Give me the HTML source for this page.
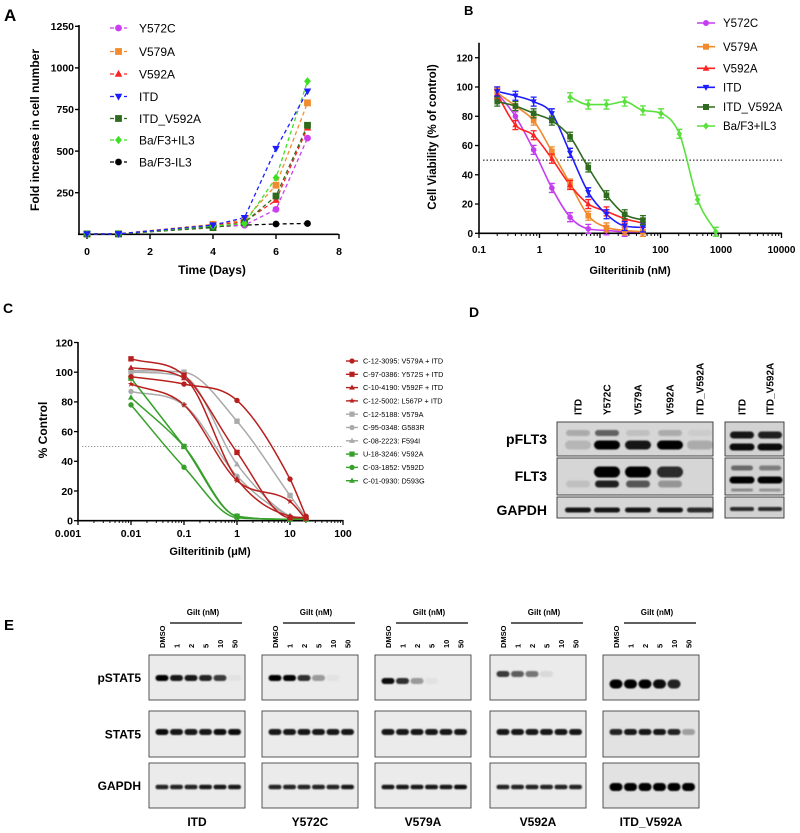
<!DOCTYPE html>
<html><head><meta charset="utf-8"><style>
html,body{margin:0;padding:0;background:#fff;}
svg{display:block;font-family:"Liberation Sans",sans-serif;}
.b{font-weight:bold;}
.n{font-family:"Liberation Sans Narrow","Liberation Sans",sans-serif;font-weight:bold;}
</style></head><body>
<svg id="fig" width="800" height="833" viewBox="0 0 800 833" xmlns="http://www.w3.org/2000/svg">
<defs><filter id="blur" x="-20%" y="-50%" width="140%" height="200%"><feGaussianBlur stdDeviation="0.9"/></filter></defs>
</svg>
<script>
// ---------- Panel A data ----------
const aDays=[0,1,4,5,6,7];
const aNames=["Y572C","V579A","V592A","ITD","ITD_V592A","Ba/F3+IL3","Ba/F3-IL3"];
const aY572C=[2,2,50,55,150,578];
const aV579A=[2,3,60,85,295,790];
const aV592A=[2,3,55,75,205,640];
const aITD=[2,3,55,100,515,860];
const aITDV=[2,2,40,70,230,655];
const aIL3p=[2,3,50,65,340,920];
const aIL3m=[2,3,45,55,62,65];
const aYTicks=[250,500,750,1000,1250];
const aXTicks=[0,2,4,6,8];
// ---------- Panel B data ----------
const bConc=[0.2,0.4,0.8,1.6,3.2,6.4,12.8,25.6,51.2];
const bY572C=[96,80,57,31,11,3,2,1,1];
const bV579A=[96,87,77,56,34,12,4,2,1];
const bV592A=[95,74,67,51,33,20,15,10,7];
const bITD=[97,94,90,82,55,28,13,5,4];
const bITDV=[90,87,82,77,66,45,26,13,9];
const bIL3Conc=[3.2,6.4,12.8,25.6,51.2,102,205,410,820];
const bIL3=[93,88,88,90,84,82,68,23,1];
const bYTicks=[0,20,40,60,80,100,120];
const bXTicks=[0.1,1,10,100,1000,10000];
// ---------- Panel C data ----------
const cConc=[0.01,0.1,1,10,20];
const cNames=["C-12-3095: V579A + ITD","C-97-0386: Y572S + ITD","C-10-4190: V592F + ITD","C-12-5002: L567P + ITD","C-12-5188: V579A","C-95-0348: G583R","C-08-2223: F594I","U-18-3246: V592A","C-03-1852: V592D","C-01-0930: D593G"];
const c1=[97,92,81,28,3];
const c2=[109,98,46,2,2];
const c3=[103,96,28,3,2];
const c4=[92,78,27,13,1];
const c5=[101,100,67,17,2];
const c6=[87,78,30,3,1];
const c7=[100,97,38,3,1];
const c8=[96,50,3,1,1];
const c9=[78,36,2,1,1];
const c10=[83,50,3,1,1];
const cYTicks=[0,20,40,60,80,100,120];
const cXTicks=[0.001,0.01,0.1,1,10,100];

const svg=document.getElementById('fig');
const NS="http://www.w3.org/2000/svg";
function mk(tag,attrs,parent,name){
  const el=document.createElementNS(NS,tag);
  for(const k in attrs) el.setAttribute(k,attrs[k]);
  
  
  (parent||svg).appendChild(el);
  return el;
}
function txt(s,x,y,attrs,parent,name){const t=mk('text',Object.assign({x:x,y:y},attrs),parent,name);t.textContent=s;return t;}
function marker(g,type,cx,cy,r,col,name){
  let el;
  if(type==='circle') el=mk('circle',{cx:cx,cy:cy,r:r,fill:col},g,name);
  else if(type==='square') el=mk('rect',{x:cx-r,y:cy-r,width:2*r,height:2*r,fill:col},g,name);
  else if(type==='tri') el=mk('polygon',{points:`${cx},${cy-r*1.2} ${cx-r*1.1},${cy+r*0.8} ${cx+r*1.1},${cy+r*0.8}`,fill:col},g,name);
  else if(type==='tridown') el=mk('polygon',{points:`${cx},${cy+r*1.2} ${cx-r*1.1},${cy-r*0.8} ${cx+r*1.1},${cy-r*0.8}`,fill:col},g,name);
  else if(type==='diamond') el=mk('polygon',{points:`${cx},${cy-r*1.2} ${cx+r},${cy} ${cx},${cy+r*1.2} ${cx-r},${cy}`,fill:col},g,name);
  else if(type==='star'){let p=[];for(let i=0;i<10;i++){const a=-Math.PI/2+i*Math.PI/5,rr=i%2?r*0.5:r*1.2;p.push((cx+rr*Math.cos(a)).toFixed(1)+','+(cy+rr*Math.sin(a)).toFixed(1));}el=mk('polygon',{points:p.join(' '),fill:col},g,name);}
  return el;
}
// monotone cubic (Fritsch-Carlson) in screen space
function smooth(pts){
  const n=pts.length;const d=[],m=[];
  for(let i=0;i<n-1;i++) d.push((pts[i+1][1]-pts[i][1])/(pts[i+1][0]-pts[i][0]));
  m[0]=d[0];m[n-1]=d[n-2];
  for(let i=1;i<n-1;i++) m[i]=(d[i-1]*d[i]<=0)?0:(d[i-1]+d[i])/2;
  for(let i=0;i<n-1;i++){
    if(d[i]===0){m[i]=0;m[i+1]=0;continue;}
    const a=m[i]/d[i],b=m[i+1]/d[i],s=a*a+b*b;
    if(s>9){const t=3/Math.sqrt(s);m[i]=t*a*d[i];m[i+1]=t*b*d[i];}
  }
  let p=`M${pts[0][0].toFixed(1)},${pts[0][1].toFixed(1)}`;
  for(let i=0;i<n-1;i++){
    const h=(pts[i+1][0]-pts[i][0])/3;
    p+=` C${(pts[i][0]+h).toFixed(1)},${(pts[i][1]+m[i]*h).toFixed(1)} ${(pts[i+1][0]-h).toFixed(1)},${(pts[i+1][1]-m[i+1]*h).toFixed(1)} ${pts[i+1][0].toFixed(1)},${pts[i+1][1].toFixed(1)}`;
  }
  return p;
}

// ================= Panel A =================
(function(){
  const g=mk('g',{},svg,'panel-a');
  const xA=d=>87+d*31.5, yA=v=>234.3-v*(41.6/250);
  txt('A',4,21,{'font-size':17,'class':'b'},g,'panel-a-label');
  mk('line',{x1:79,y1:25,x2:79,y2:234.5,stroke:'#000','stroke-width':1.6},g,'a-y-axis');
  mk('line',{x1:78,y1:234.3,x2:338.5,y2:234.3,stroke:'#000','stroke-width':1.6},g,'a-x-axis');
  aYTicks.forEach(v=>{mk('line',{x1:75,y1:yA(v),x2:79,y2:yA(v),stroke:'#000','stroke-width':1.4},g,'a-y-tick');
    txt(v,74,yA(v)+3.7,{'font-size':10.5,'class':'b','text-anchor':'end'},g,'a-y-tick-label');});
  aXTicks.forEach(v=>{mk('line',{x1:xA(v),y1:234,x2:xA(v),y2:239,stroke:'#000','stroke-width':1.4},g,'a-x-tick');
    txt(v,xA(v),255,{'font-size':10.5,'class':'b','text-anchor':'middle'},g,'a-x-tick-label');});
  txt('Time (Days)',212,274,{'font-size':12,'class':'b','text-anchor':'middle'},g,'a-x-axis-title');
  txt('Fold increase in cell number',0,0,{'font-size':12,'class':'b','text-anchor':'middle',transform:'translate(39,130) rotate(-90)'},g,'a-y-axis-title');
  const series=[aY572C,aV579A,aV592A,aITD,aITDV,aIL3p,aIL3m];
  const cols=['#cc3cf0','#f28a2e','#ff2222','#1d1dff','#2f6b1f','#3ee024','#000'];
  const shapes=['circle','square','tri','tridown','square','diamond','circle'];
  const order=[6,0,1,2,4,5,3];
  order.forEach(i=>{
    const s=series[i];
    mk('polyline',{points:aDays.map((d,j)=>xA(d)+','+yA(s[j])).join(' '),fill:'none',stroke:cols[i],'stroke-width':1.3,'stroke-dasharray':'4,3'},g,'a-line-'+aNames[i]);
  });
  order.forEach(i=>{const s=series[i];aDays.forEach((d,j)=>marker(g,shapes[i],xA(d),yA(s[j]),3.4,cols[i],'a-point-'+aNames[i]));});
  const ly=[28,51.5,74,96.5,118.5,140,162];
  aNames.forEach((n,i)=>{
    mk('line',{x1:110,y1:ly[i],x2:127,y2:ly[i],stroke:cols[i],'stroke-width':1.3,'stroke-dasharray':'4,3'},g,'a-legend-line');
    marker(g,shapes[i],118.5,ly[i],3.4,cols[i],'a-legend-marker');
    txt(n,139,ly[i]+4.3,{'font-size':12},g,'a-legend-entry');
  });
})();

// ================= Panel B =================
(function(){
  const g=mk('g',{},svg,'panel-b');
  const xB=c=>479+(Math.log10(c)+1)*60.5, yB=v=>233.3-v*1.463;
  txt('B',464,15,{'font-size':13,'class':'b'},g,'panel-b-label');
  mk('line',{x1:479,y1:42.7,x2:479,y2:234,stroke:'#000','stroke-width':1.6},g,'b-y-axis');
  mk('line',{x1:478,y1:233.3,x2:782,y2:233.3,stroke:'#000','stroke-width':1.6},g,'b-x-axis');
  bYTicks.forEach(v=>{mk('line',{x1:475,y1:yB(v),x2:479,y2:yB(v),stroke:'#000','stroke-width':1.3},g,'b-y-tick');
    txt(v,473,yB(v)+3.6,{'font-size':10,'class':'b','text-anchor':'end'},g,'b-y-tick-label');});
  bXTicks.forEach((v,k)=>{mk('line',{x1:xB(v),y1:233,x2:xB(v),y2:238,stroke:'#000','stroke-width':1.3},g,'b-x-tick');
    txt(v,xB(v),253,{'font-size':10,'class':'b','text-anchor':'middle'},g,'b-x-tick-label');
    if(k<bXTicks.length-1) for(let m=2;m<10;m++) mk('line',{x1:xB(v*m),y1:233,x2:xB(v*m),y2:236,stroke:'#000','stroke-width':1},g,'b-x-minor-tick');});
  txt('Gilteritinib (nM)',630,274,{'font-size':11,'class':'b','text-anchor':'middle'},g,'b-x-axis-title');
  txt('Cell  Viability (% of control)',0,0,{'font-size':11.5,'class':'b','text-anchor':'middle',transform:'translate(436,137) rotate(-90)'},g,'b-y-axis-title');
  mk('line',{x1:483,y1:yB(50),x2:782,y2:yB(50),stroke:'#000','stroke-width':1,'stroke-dasharray':'1.5,2'},g,'b-ic50-line');
  const names=['Y572C','V579A','V592A','ITD','ITD_V592A','Ba/F3+IL3'];
  const series=[bY572C,bV579A,bV592A,bITD,bITDV,bIL3];
  const concs=[bConc,bConc,bConc,bConc,bConc,bIL3Conc];
  const cols=['#c43ef0','#f08a2c','#ff2222','#1d1dff','#2f6b1f','#5ae03c'];
  const shapes=['circle','square','tri','tridown','square','diamond'];
  series.forEach((s,i)=>{
    const pts=concs[i].map((c,j)=>[xB(c),yB(s[j])]);
    mk('path',{d:smooth(pts),fill:'none',stroke:cols[i],'stroke-width':1.6},g,'b-curve-'+names[i]);
  });
  series.forEach((s,i)=>concs[i].forEach((c,j)=>{
    const x=xB(c),y=yB(s[j]),e=2.5;
    mk('path',{d:`M${x},${y-e-2}V${y+e+2}M${x-3},${y-e-2}H${x+3}M${x-3},${y+e+2}H${x+3}`,stroke:cols[i],'stroke-width':1.3,fill:'none'},g,'b-error-bar');
    marker(g,shapes[i],x,y,2.8,cols[i],'b-point-'+names[i]);
  }));
  const ly=[23,46.7,68.3,87.3,107,126];
  names.forEach((n,i)=>{
    mk('line',{x1:697,y1:ly[i],x2:715,y2:ly[i],stroke:cols[i],'stroke-width':1.6},g,'b-legend-line');
    marker(g,shapes[i],706,ly[i],3,cols[i],'b-legend-marker');
    txt(n,723,ly[i]+4.2,{'font-size':11.5},g,'b-legend-entry');
  });
})();

// ================= Panel C =================
(function(){
  const g=mk('g',{},svg,'panel-c');
  const xC=c=>78+(Math.log10(c)+3)*53, yC=v=>520.7-v*1.485;
  txt('C',3,313,{'font-size':14,'class':'b'},g,'panel-c-label');
  mk('line',{x1:78,y1:342,x2:78,y2:521.5,stroke:'#000','stroke-width':1.6},g,'c-y-axis');
  mk('line',{x1:77,y1:520.7,x2:343,y2:520.7,stroke:'#000','stroke-width':1.6},g,'c-x-axis');
  cYTicks.forEach(v=>{mk('line',{x1:74,y1:yC(v),x2:78,y2:yC(v),stroke:'#000','stroke-width':1.3},g,'c-y-tick');
    txt(v,73,yC(v)+3.8,{'font-size':10.5,'class':'b','text-anchor':'end'},g,'c-y-tick-label');});
  cXTicks.forEach((v,k)=>{mk('line',{x1:xC(v),y1:520,x2:xC(v),y2:525,stroke:'#000','stroke-width':1.3},g,'c-x-tick');
    txt(v,xC(v)-(k===0?10:0),537,{'font-size':10.5,'class':'b','text-anchor':'middle'},g,'c-x-tick-label');
    if(k<cXTicks.length-1) for(let m=2;m<10;m++) mk('line',{x1:xC(v*m),y1:520,x2:xC(v*m),y2:523,stroke:'#000','stroke-width':0.9},g,'c-x-minor-tick');});
  txt('Gilteritinib (μM)',210,555,{'font-size':11,'class':'b','text-anchor':'middle'},g,'c-x-axis-title');
  txt('% Control',0,0,{'font-size':12,'class':'b','text-anchor':'middle',transform:'translate(47,430) rotate(-90)'},g,'c-y-axis-title');
  mk('line',{x1:82,y1:yC(50),x2:342,y2:yC(50),stroke:'#888','stroke-width':0.9,'stroke-dasharray':'1.3,1.7'},g,'c-ic50-line');
  const series=[c1,c2,c3,c4,c5,c6,c7,c8,c9,c10];
  const R='#b8201e',G='#aaaaaa',Gr='#36a02a';
  const cols=[R,R,R,R,G,G,G,Gr,Gr,Gr];
  const shapes=['circle','square','tri','star','square','circle','tri','square','circle','tri'];
  const order=[4,5,6,7,8,9,0,1,2,3];
  order.forEach(i=>{const pts=cConc.map((c,j)=>[xC(c),yC(series[i][j])]);
    mk('path',{d:smooth(pts),fill:'none',stroke:cols[i],'stroke-width':1.5},g,'c-curve');});
  order.forEach(i=>cConc.forEach((c,j)=>marker(g,shapes[i],xC(c),yC(series[i][j]),2.7,cols[i],'c-point')));
  cNames.forEach((n,i)=>{
    const y=361+i*13.3;
    mk('line',{x1:346,y1:y,x2:358,y2:y,stroke:cols[i],'stroke-width':1.4},g,'c-legend-line');
    marker(g,shapes[i],352,y,2.6,cols[i],'c-legend-marker');
    txt(n,363,y+2.6,{'font-size':7.3},g,'c-legend-entry');
  });
})();

// ================= Band helpers =================
function band(g,cx,cy,w,h,a,name){
  if(a<=0.02) return;
  mk('rect',{x:cx-w/2,y:cy-h/2,width:w,height:h,rx:h/2,fill:'#000','fill-opacity':a,filter:'url(#blur)'},g,name);
}

// ================= Panel D =================
const dLanesL=['ITD','Y572C','V579A','V592A','ITD_V592A'];
const dLanesR=['ITD','ITD_V592A'];
const dPUpper=[0.2,0.55,0.1,0.2,0.05];
const dPLower=[0.15,1,0.9,1,0.2];
const dFUpper=[0,1,1,0.8,0];
const dFLower=[0.1,0.85,0.6,0.3,0];
const dGapdh=[0.9,0.9,0.9,0.9,0.8];
const dRPUpper=[0.9,0.85];
const dRPLower=[0.95,0.95];
const dRFUpper=[0.5,0.4];
const dRFMid=[1,1];
const dRFLower=[0.35,0.3];
const dRGapdh=[0.8,0.8];
(function(){
  const g=mk('g',{},svg,'panel-d');
  txt('D',469,317,{'font-size':14,'class':'b'},g,'panel-d-label');
  const lxL=[578,607,638,670,700], lxR=[742,770];
  dLanesL.forEach((n,i)=>txt(n,0,0,{'font-size':10,'class':'n',transform:`translate(${lxL[i]+3.5},415) rotate(-90)`},g,'d-lane-label'));
  dLanesR.forEach((n,i)=>txt(n,0,0,{'font-size':10,'class':'n',transform:`translate(${lxR[i]+3.5},415) rotate(-90)`},g,'d-lane-label'));
  const rows=[['pFLT3',422,456,439],['FLT3',458,495,476],['GAPDH',497,518,510]];
  rows.forEach(r=>{
    mk('rect',{x:557,y:r[1],width:156,height:r[2]-r[1],fill:'#d6d6d6',stroke:'#333','stroke-width':0.9},g,'d-blot-'+r[0]);
    mk('rect',{x:725,y:r[1],width:59,height:r[2]-r[1],fill:'#d2d2d2',stroke:'#333','stroke-width':0.9},g,'d-blot-right-'+r[0]);
    txt(r[0],547,r[3]+5,{'font-size':14,'class':'n','text-anchor':'end'},g,'d-row-label');
  });
  lxL.forEach((x,i)=>{band(g,x,433,24,6,dPUpper[i],'d-band');band(g,x,445,26,9,dPLower[i],'d-band');
    band(g,x,472,26,11,dFUpper[i],'d-band');band(g,x,484,24,7,dFLower[i],'d-band');band(g,x,510,26,5,dGapdh[i],'d-band');});
  lxR.forEach((x,i)=>{band(g,x,435,24,7,dRPUpper[i],'d-band');band(g,x,447,25,7,dRPLower[i],'d-band');
    band(g,x,468,22,5,dRFUpper[i],'d-band');band(g,x,480,25,7,dRFMid[i],'d-band');band(g,x,490,22,3,dRFLower[i],'d-band');band(g,x,509,24,4,dRGapdh[i],'d-band');});
})();

// ================= Panel E =================
const eCells=['ITD','Y572C','V579A','V592A','ITD_V592A'];
const eDoses=['1','2','5','10','50'];
const ePSTAT5=[[1,0.9,0.9,0.85,0.75,0.04],[1,1,0.8,0.35,0.04,0],[0.95,0.8,0.35,0.04,0,0],[0.75,0.6,0.5,0.08,0,0],[1,1,1,0.95,0.85,0]];
const eSTAT5=[[0.95,0.9,0.9,0.9,0.95,0.95],[0.9,0.9,0.9,0.9,0.9,0.9],[0.9,0.9,0.9,0.9,0.9,0.9],[0.9,0.9,0.9,0.9,0.9,0.9],[0.85,0.9,0.9,0.9,0.85,0.3]];
const eGAPDH=[[0.85,0.85,0.85,0.9,0.9,0.9],[0.85,0.85,0.85,0.85,0.85,0.9],[0.9,0.9,0.9,0.9,0.9,0.95],[0.85,0.85,0.85,0.85,0.85,0.85],[1,1,1,1,1,1]];
(function(){
  const g=mk('g',{},svg,'panel-e');
  txt('E',4,630,{'font-size':15,'class':'n'},g,'panel-e-label');
  const boxX=[149,262,375,490,603];
  const rowY=[[655,700,'pSTAT5'],[711,757,'STAT5'],[763,808,'GAPDH']];
  rowY.forEach(r=>txt(r[2],141,(r[0]+r[1])/2+4.5,{'font-size':12,'class':'n','text-anchor':'end'},g,'e-row-label'));
  const pY=[678,678,681,674,684];
  eCells.forEach((c,k)=>{
    const x0=boxX[k];
    const lanes=[0,1,2,3,4,5].map(i=>x0+13+i*14.5);
    txt('Gilt (nM)',x0+54,615,{'font-size':8,'class':'n','text-anchor':'middle'},g,'e-gilt-label');
    mk('line',{x1:x0+21,y1:623,x2:x0+93,y2:623,stroke:'#000','stroke-width':1.2},g,'e-dose-bracket');
    txt('DMSO',0,0,{'font-size':7.5,'class':'n',transform:`translate(${lanes[0]+3},648) rotate(-90)`},g,'e-lane-label');
    eDoses.forEach((d,i)=>txt(d,0,0,{'font-size':7.5,'class':'n',transform:`translate(${lanes[i+1]+3},648) rotate(-90)`},g,'e-lane-label'));
    rowY.forEach(r=>mk('rect',{x:x0,y:r[0],width:96,height:r[1]-r[0],fill:k===4?'#e2e2e2':'#ebebeb',stroke:'#444','stroke-width':0.9},g,'e-blot-'+r[2]));
    lanes.forEach((x,i)=>{
      band(g,x,pY[k],13,k===4?9:6,ePSTAT5[k][i],'e-band-pstat5');
      band(g,x,732,13,6,eSTAT5[k][i],'e-band-stat5');
      band(g,x,787,13,k===4?8:4.5,eGAPDH[k][i],'e-band-gapdh');
    });
    txt(c,x0+48,826,{'font-size':12,'class':'n','text-anchor':'middle'},g,'e-cell-label');
  });
})();
</script>
</body></html>
